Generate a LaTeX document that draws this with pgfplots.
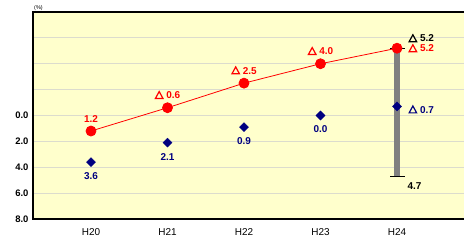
\documentclass[border=0pt]{standalone}
\usepackage{pgfplots}
\pgfplotsset{compat=1.18}
\usepackage{fontspec}
\setmainfont{Liberation Sans}
\definecolor{bgy}{RGB}{255,255,204}
\definecolor{gridc}{RGB}{220,220,205}
\definecolor{navyc}{RGB}{0,0,128}
\definecolor{barg}{RGB}{128,128,128}
\newsavebox\trired
\newsavebox\trinavy
\newsavebox\triblack
\begin{document}
\sbox\trired{\tikz[baseline=0pt]\draw[red, line width=1.2bp, line join=miter] (0,0.3bp)--(7.5bp,0.3bp)--(3.75bp,7.2bp)--cycle;}%
\sbox\trinavy{\tikz[baseline=0pt]\draw[navyc, line width=1.2bp, line join=miter] (0,0.3bp)--(7.5bp,0.3bp)--(3.75bp,7.2bp)--cycle;}%
\sbox\triblack{\tikz[baseline=0pt]\draw[black, line width=1.2bp, line join=miter] (0,0.3bp)--(7.5bp,0.3bp)--(3.75bp,7.2bp)--cycle;}%
\begin{tikzpicture}
\useasboundingbox (0,0) rectangle (464bp,242bp);
\begin{axis}[
  at={(33bp,23bp)}, anchor=south west,
  scale only axis, width=437bp, height=207bp,
  xmin=-0.758, xmax=4.954,
  ymin=-8, ymax=8, y dir=reverse,
  axis background/.style={fill=bgy},
  axis line style={black, line width=1.3bp},
  ytick={-8,-6,-4,-2,0,2,4,6,8},
  yticklabels={,,,,0.0,2.0,4.0,6.0,8.0},
  xtick={0,1,2,3,4},
  xticklabels={H20,H21,H22,H23,H24},
  major tick length=0pt,
  ymajorgrids, grid style={gridc, line width=1bp},
  yticklabel style={font=\fontsize{9.5}{10}\selectfont\bfseries, xshift=-1bp},
  xticklabel style={font=\fontsize{10}{11}\selectfont, yshift=-6bp},
  clip=false,
]
% range bar H24
\addplot[barg, line width=6.5bp, forget plot] coordinates {(4,-5.2) (4,4.7)};
\addplot[black, draw=none, mark=-, mark size=7.5bp, mark options={line width=1.3bp}, forget plot] coordinates {(4,-5.2) (4,4.7)};
% red series
\addplot[red, line width=0.8bp, mark=*, mark size=5bp, mark options={fill=red, draw=red},
  nodes near coords, point meta=explicit symbolic,
  every node near coord/.append style={font=\fontsize{10}{11}\selectfont\bfseries, text=red, anchor=south, yshift=5bp}]
  coordinates {(0,1.2)[1.2] (1,-0.6)[\usebox\trired\ 0.6] (2,-2.5)[\usebox\trired\ 2.5] (3,-4.0)[\usebox\trired\ 4.0] (4,-5.2)[]};
\addplot[draw=none, mark=none, nodes near coords, point meta=explicit symbolic,
  every node near coord/.append style={font=\fontsize{10}{11}\selectfont\bfseries, text=red, anchor=west, xshift=8bp}]
  coordinates {(4,-5.2)[\usebox\trired\ 5.2]};
% blue series
\addplot[only marks, mark=square*, mark size=3.2bp, mark options={fill=navyc, draw=navyc, rotate=45},
  nodes near coords, point meta=explicit symbolic,
  every node near coord/.append style={font=\fontsize{10}{11}\selectfont\bfseries, text=navyc, anchor=north, yshift=-7bp}]
  coordinates {(0,3.6)[3.6] (1,2.1)[2.1] (2,0.9)[0.9] (3,0.0)[0.0] (4,-0.7)[]};
\addplot[draw=none, mark=none, nodes near coords, point meta=explicit symbolic,
  every node near coord/.append style={font=\fontsize{10}{11}\selectfont\bfseries, text=navyc, anchor=west, xshift=8bp, yshift=-3bp}]
  coordinates {(4,-0.7)[\usebox\trinavy\ 0.7]};
% black range labels
\addplot[draw=none, mark=none, nodes near coords, point meta=explicit symbolic,
  every node near coord/.append style={font=\fontsize{10}{11}\selectfont\bfseries, text=black, anchor=west, xshift=8bp, yshift=10bp}]
  coordinates {(4,-5.2)[\usebox\triblack\ 5.2]};
\addplot[draw=none, mark=none, nodes near coords, point meta=explicit symbolic,
  every node near coord/.append style={font=\fontsize{10}{11}\selectfont\bfseries, text=black, anchor=west, xshift=7bp, yshift=-10bp}]
  coordinates {(4,4.7)[4.7]};
\node[anchor=south west, font=\fontsize{5.5}{6}\selectfont, inner sep=1bp] at (rel axis cs:0,1) {(\%)};
\end{axis}
\end{tikzpicture}
\end{document}
